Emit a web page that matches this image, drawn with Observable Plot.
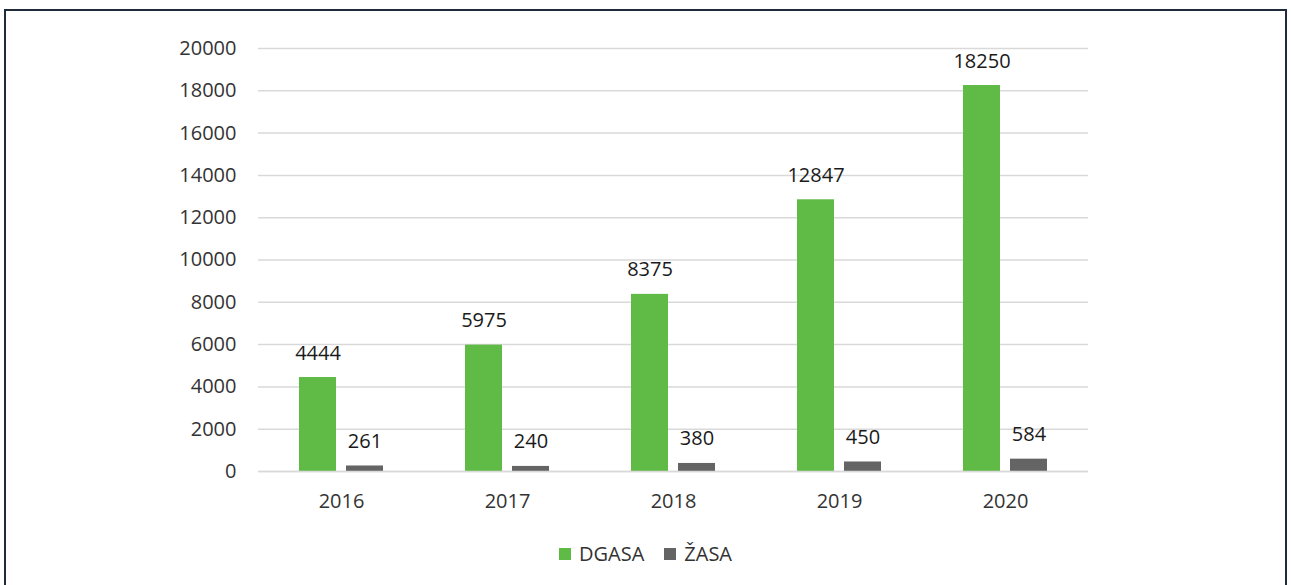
<!DOCTYPE html>
<html>
<head>
<meta charset="utf-8">
<script src="https://cdn.jsdelivr.net/npm/d3@7"></script>
<script src="https://cdn.jsdelivr.net/npm/@observablehq/plot@0.6"></script>
<style>
  html, body { margin: 0; padding: 0; background: #fff; }
  body { width: 1291px; height: 585px; overflow: hidden; position: relative; font-family: "Open Sans", sans-serif; }
  #frame { position: absolute; left: 4px; top: 9px; width: 1283px; height: 600px; border: 2px solid #1f2a3a; border-bottom: none; box-sizing: border-box; pointer-events: none; }
  #chart { position: absolute; left: 0; top: 0; }
  #legend { position: absolute; left: 0; top: 540px; width: 1291px; display: flex; justify-content: center; align-items: center; font-size: 20px; color: #333; }
  .item { display: flex; align-items: center; margin: 0 10px; }
  .sw { width: 12px; height: 12px; margin-right: 8px; display: inline-block; }
</style>
</head>
<body>
<div id="chart"></div>
<div id="legend"></div>
<div id="frame"></div>
<script>
const years = ["2016", "2017", "2018", "2019", "2020"];
const seriesNames = ["DGASA", "ŽASA"];
const dgasa = [4444, 5975, 8375, 12847, 18250];
const zasa = [261, 240, 380, 450, 584];
const colors = ["#5fba46", "#646464"];
const yTicks = [0, 2000, 4000, 6000, 8000, 10000, 12000, 14000, 16000, 18000, 20000];

const data = [];
years.forEach((yr, i) => {
  data.push({year: yr, series: seriesNames[0], value: dgasa[i]});
  data.push({year: yr, series: seriesNames[1], value: zasa[i]});
});

const plot = Plot.plot({
  width: 1291,
  height: 525,
  marginLeft: 258,
  marginRight: 203,
  marginTop: 48,
  marginBottom: 54,
  style: {fontFamily: "Open Sans, sans-serif", fontSize: "20px", color: "#333", background: "transparent"},
  fx: {domain: years, padding: 0, label: null},
  x: {domain: seriesNames, paddingInner: 0.213, paddingOuter: 0.872, axis: null},
  y: {domain: [0, 20000], label: null},
  color: {domain: seriesNames, range: colors},
  marks: [
    Plot.gridY(yTicks, {stroke: "#d9d9d9", strokeOpacity: 1, strokeWidth: 1.5}),
    Plot.axisY(yTicks, {tickSize: 0, tickPadding: 22, fontSize: 20, tickFormat: d => String(d), label: null}),
    Plot.axisFx({anchor: "bottom", tickSize: 0, tickPadding: 22, fontSize: 20, label: null}),
    Plot.barY(data, {fx: "year", x: "series", y: "value", fill: "series"}),
    Plot.ruleY([0], {stroke: "#d9d9d9", strokeWidth: 1.5}),
    Plot.text(data, {fx: "year", x: "series", y: "value", text: d => String(d.value), lineAnchor: "bottom", dy: -18, fontSize: 20, fill: "#1a1a1a"})
  ]
});
document.getElementById("chart").appendChild(plot);

const legend = document.getElementById("legend");
seriesNames.forEach((s, i) => {
  const item = document.createElement("div");
  item.className = "item";
  const sw = document.createElement("span");
  sw.className = "sw";
  sw.style.background = colors[i];
  const t = document.createElement("span");
  t.textContent = s;
  item.appendChild(sw);
  item.appendChild(t);
  legend.appendChild(item);
});
</script>
</body>
</html>
